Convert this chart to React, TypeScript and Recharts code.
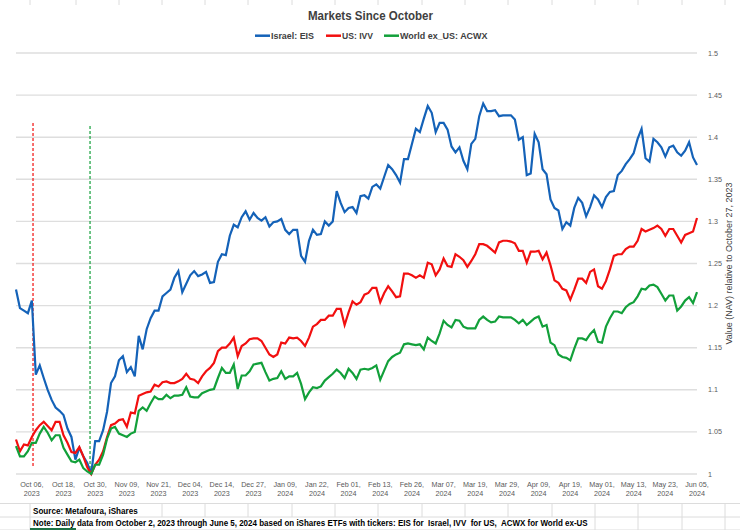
import React from 'react';
import { LineChart, Line, XAxis, YAxis, CartesianGrid, ReferenceLine } from 'recharts';

// ---- Data ----
// Trading-day index 0 = Oct 2, 2023 ... 172 = Jun 5, 2024
const xTickIndex = [4, 12, 20, 28, 36, 44, 52, 60, 68, 76, 84, 92, 100, 108, 116, 124, 132, 140, 148, 156, 164, 172];
const xTickLabels = [
  ['Oct 06,', '2023'], ['Oct 18,', '2023'], ['Oct 30,', '2023'], ['Nov 09,', '2023'], ['Nov 21,', '2023'],
  ['Dec 04,', '2023'], ['Dec 14,', '2023'], ['Dec 27,', '2023'], ['Jan 09,', '2024'], ['Jan 22,', '2024'],
  ['Feb 01,', '2024'], ['Feb 13,', '2024'], ['Feb 26,', '2024'], ['Mar 07,', '2024'], ['Mar 19,', '2024'],
  ['Mar 29,', '2024'], ['Apr 09,', '2024'], ['Apr 19,', '2024'], ['May 01,', '2024'], ['May 13,', '2024'],
  ['May 23,', '2024'], ['Jun 05,', '2024'],
];
const yTicks = [1, 1.05, 1.1, 1.15, 1.2, 1.25, 1.3, 1.35, 1.4, 1.45, 1.5];
const yTickLabels = ['1', '1.05', '1.1', '1.15', '1.2', '1.25', '1.3', '1.35', '1.4', '1.45', '1.5'];

const israelEIS = [
  1.219, 1.197, 1.194, 1.191, 1.206, 1.118, 1.129, 1.114, 1.100, 1.088,
  1.079, 1.075, 1.070, 1.054, 1.044, 1.017, 1.031, 1.021, 1.013, 1.000,
  1.039, 1.039, 1.052, 1.074, 1.108, 1.116, 1.135, 1.140, 1.121, 1.127,
  1.116, 1.164, 1.148, 1.172, 1.185, 1.194, 1.194, 1.211, 1.215, 1.219,
  1.233, 1.241, 1.216, 1.226, 1.236, 1.241, 1.235, 1.237, 1.240, 1.227,
  1.228, 1.252, 1.261, 1.260, 1.283, 1.296, 1.293, 1.305, 1.312, 1.302,
  1.310, 1.304, 1.301, 1.305, 1.294, 1.299, 1.300, 1.303, 1.290, 1.285,
  1.290, 1.290, 1.259, 1.252, 1.277, 1.290, 1.284, 1.285, 1.300, 1.295,
  1.300, 1.336, 1.322, 1.311, 1.316, 1.317, 1.310, 1.330, 1.331, 1.327,
  1.341, 1.344, 1.339, 1.353, 1.367, 1.362, 1.355, 1.346, 1.374, 1.374,
  1.392, 1.410, 1.406, 1.422, 1.437, 1.429, 1.406, 1.417, 1.417, 1.409,
  1.389, 1.382, 1.388, 1.372, 1.362, 1.392, 1.398, 1.425, 1.440, 1.431,
  1.431, 1.432, 1.425, 1.426, 1.426, 1.426, 1.421, 1.397, 1.400, 1.355,
  1.357, 1.404, 1.394, 1.362, 1.356, 1.326, 1.316, 1.313, 1.291, 1.299,
  1.295, 1.316, 1.328, 1.322, 1.306, 1.317, 1.331, 1.326, 1.317, 1.329,
  1.335, 1.336, 1.355, 1.360, 1.368, 1.374, 1.381, 1.398, 1.410, 1.375,
  1.371, 1.398, 1.394, 1.388, 1.377, 1.388, 1.390, 1.382, 1.378, 1.384,
  1.394, 1.376, 1.367,
];

const usIVV = [
  1.041, 1.027, 1.035, 1.034, 1.044, 1.052, 1.058, 1.062, 1.057, 1.052,
  1.062, 1.062, 1.046, 1.037, 1.026, 1.025, 1.032, 1.021, 1.008, 1.000,
  1.011, 1.017, 1.027, 1.044, 1.058, 1.060, 1.064, 1.065, 1.056, 1.073,
  1.072, 1.093, 1.095, 1.097, 1.098, 1.106, 1.104, 1.109, 1.110, 1.108,
  1.108, 1.110, 1.113, 1.119, 1.113, 1.112, 1.108, 1.116, 1.122, 1.126,
  1.132, 1.146, 1.150, 1.150, 1.155, 1.162, 1.140, 1.152, 1.155, 1.160,
  1.161, 1.161, 1.158, 1.150, 1.142, 1.139, 1.142, 1.156, 1.155, 1.162,
  1.161, 1.162, 1.158, 1.152, 1.162, 1.175, 1.178, 1.183, 1.183, 1.188,
  1.188, 1.196, 1.196, 1.177, 1.192, 1.205, 1.201, 1.204, 1.213, 1.215,
  1.221, 1.221, 1.204, 1.215, 1.223, 1.217, 1.210, 1.211, 1.238, 1.238,
  1.236, 1.233, 1.236, 1.233, 1.251, 1.249, 1.236, 1.243, 1.256, 1.247,
  1.246, 1.261, 1.258, 1.254, 1.246, 1.253, 1.261, 1.273, 1.273, 1.271,
  1.267, 1.263, 1.275, 1.277, 1.277, 1.276, 1.274, 1.265, 1.265, 1.251,
  1.264, 1.264, 1.265, 1.255, 1.263, 1.248, 1.230, 1.227, 1.220, 1.218,
  1.207, 1.219, 1.232, 1.232, 1.227, 1.240, 1.243, 1.223, 1.220, 1.229,
  1.243, 1.259, 1.261, 1.261, 1.267, 1.270, 1.270, 1.277, 1.291, 1.288,
  1.290, 1.292, 1.295, 1.291, 1.283, 1.291, 1.291, 1.283, 1.275, 1.284,
  1.286, 1.288, 1.304,
];

const worldACWX = [
  1.033, 1.021, 1.021, 1.027, 1.037, 1.037, 1.048, 1.056, 1.049, 1.040,
  1.046, 1.046, 1.031, 1.023, 1.015, 1.014, 1.017, 1.007, 1.003, 1.000,
  1.011, 1.011, 1.023, 1.042, 1.054, 1.056, 1.048, 1.046, 1.044, 1.048,
  1.050, 1.075, 1.079, 1.075, 1.084, 1.092, 1.089, 1.089, 1.094, 1.090,
  1.093, 1.093, 1.094, 1.103, 1.092, 1.091, 1.091, 1.096, 1.098, 1.100,
  1.101, 1.114, 1.126, 1.120, 1.120, 1.130, 1.101, 1.117, 1.117, 1.122,
  1.130, 1.131, 1.132, 1.121, 1.111, 1.113, 1.114, 1.122, 1.113, 1.116,
  1.116, 1.120, 1.107, 1.089, 1.097, 1.103, 1.102, 1.104, 1.111, 1.115,
  1.119, 1.124, 1.120, 1.114, 1.125, 1.120, 1.113, 1.124, 1.125, 1.124,
  1.126, 1.129, 1.112, 1.123, 1.134, 1.139, 1.142, 1.144, 1.154, 1.155,
  1.154, 1.153, 1.154, 1.148, 1.162, 1.158, 1.155, 1.167, 1.182, 1.177,
  1.174, 1.183, 1.182, 1.175, 1.173, 1.173, 1.173, 1.183, 1.187, 1.183,
  1.180, 1.181, 1.187, 1.186, 1.186, 1.186, 1.183, 1.179, 1.183, 1.177,
  1.181, 1.185, 1.187, 1.175, 1.177, 1.156, 1.153, 1.142, 1.139, 1.138,
  1.135, 1.149, 1.161, 1.161, 1.159, 1.166, 1.171, 1.157, 1.156, 1.175,
  1.185, 1.193, 1.193, 1.191, 1.198, 1.202, 1.204, 1.211, 1.220, 1.219,
  1.224, 1.225, 1.222, 1.214, 1.206, 1.212, 1.212, 1.194, 1.199, 1.206,
  1.210, 1.203, 1.216,
];

const seriesMeta = [
  { key: 'eis', name: 'Israel: EIS', color: '#1462B8' },
  { key: 'ivv', name: 'US: IVV', color: '#F20F0F' },
  { key: 'acwx', name: 'World ex_US: ACWX', color: '#12A03A' },
];

// Event markers (trading-day index, value range)
const eventMarkers = [
  { x: 4.3, y0: 1.0095, y1: 1.417, color: '#F20F0F' },
  { x: 18.7, y0: 1.0, y1: 1.415, color: '#12A03A' },
];

const titleText = 'Markets Since October';
const yAxisTitle = 'Value (NAV) relative to October 27, 2023';
const sourceText = 'Source: Metafoura, iShares';
const noteText = 'Note: Daily data from October 2, 2023 through June 5, 2024 based on iShares ETFs with tickers: EIS for  Israel, IVV  for US,  ACWX for World ex-US';

// ---- Layout / styling (not data) ----
const legendLineX = [255, 326, 384];
const legendTextW = [43, 31, 87.5];
const sheetCols = [30, 76, 119, 162, 205, 248, 292, 335, 378, 422, 465, 508, 552, 595, 638, 682, 725];
const CELL = '#DCDCDC';

const data = israelEIS.map((v, i) => ({ i, eis: v, ivv: usIVV[i], acwx: worldACWX[i] }));

const SANS = "'Liberation Sans', Arial, sans-serif";

const XTick = (props: any) => {
  const { x, y, payload } = props;
  const idx = xTickIndex.indexOf(payload.value);
  const lbl = idx >= 0 ? xTickLabels[idx] : ['', ''];
  return (
    <text x={x} y={y} textAnchor="middle" fill="#595959" fontSize={7.2} fontFamily={SANS}>
      <tspan x={x} dy={4.5}>{lbl[0]}</tspan>
      <tspan x={x} dy={9.5}>{lbl[1]}</tspan>
    </text>
  );
};

const YTitle = (props: any) => {
  const vb = props.viewBox || {};
  const cx = vb.x + vb.width / 2 + 10;
  const cy = vb.y + vb.height / 2;
  return (
    <text x={cx} y={cy} textAnchor="middle" dominantBaseline="central" transform={`rotate(-90 ${cx} ${cy})`}
      fill="#404040" fontSize={8.5} fontFamily={SANS} textLength={162} lengthAdjust="spacingAndGlyphs">
      {yAxisTitle}
    </text>
  );
};

export default function App() {
  return (
    <div style={{ position: 'absolute', left: 0, top: 0, width: 740, height: 530, background: '#fff', overflow: 'hidden' }}>
      {/* spreadsheet cell borders around the chart */}
      <svg width={740} height={530} style={{ position: 'absolute', left: 0, top: 0 }}>
        {sheetCols.map((c) => (
          <line key={'t' + c} x1={c} x2={c} y1={0} y2={5} stroke={CELL} strokeWidth={1} />
        ))}
        <line x1={0} x2={740} y1={503.5} y2={503.5} stroke={CELL} strokeWidth={1} />
        <line x1={0} x2={740} y1={517} y2={517} stroke={CELL} strokeWidth={1} />
        <line x1={0} x2={740} y1={530} y2={530} stroke={CELL} strokeWidth={1} />
        {sheetCols.filter((c) => c === 30 || c >= 162).map((c) => (
          <line key={'s' + c} x1={c} x2={c} y1={503.5} y2={517} stroke={CELL} strokeWidth={1} />
        ))}
        {sheetCols.filter((c) => c === 30 || c >= 595).map((c) => (
          <line key={'n' + c} x1={c} x2={c} y1={517} y2={530} stroke={CELL} strokeWidth={1} />
        ))}
        <line x1={30} x2={76} y1={529} y2={529} stroke="#1E7145" strokeWidth={2} />
      </svg>
      <div style={{ position: 'absolute', left: 0, top: 0 }}>
        <LineChart width={740} height={530} data={data} margin={{ top: 53, right: 0, bottom: 26, left: 16 }}>
          <CartesianGrid vertical={false} stroke="#DEDEDE" strokeWidth={1.4} />
          <XAxis type="number" dataKey="i" domain={[0, 172]} ticks={xTickIndex} interval={0}
            axisLine={false} tickLine={false} tick={<XTick />} height={30} />
          <YAxis orientation="right" domain={[1, 1.5]} ticks={yTicks} width={43} axisLine={false} tickLine={false}
            tickMargin={5} interval={0}
            tick={{ fontSize: 7.2, fill: '#595959', fontFamily: SANS }}
            tickFormatter={(v: number) => yTickLabels[yTicks.indexOf(v)]}
            label={<YTitle />} />
          {eventMarkers.map((m, k) => (
            <ReferenceLine key={k} segment={[{ x: m.x, y: m.y0 }, { x: m.x, y: m.y1 }]} stroke={m.color}
              strokeWidth={1.2} strokeDasharray="3 2" />
          ))}
          {seriesMeta.map((s) => (
            <Line key={s.key} type="linear" dataKey={s.key} name={s.name} stroke={s.color} strokeWidth={2.2}
              dot={false} isAnimationActive={false} />
          ))}
        </LineChart>
      </div>
      {/* title, legend, footnotes */}
      <svg width={740} height={530} style={{ position: 'absolute', left: 0, top: 0, pointerEvents: 'none' }}>
        <text x={370.5} y={20} textAnchor="middle" fontFamily={SANS} fontWeight={700} fontSize={12.5} fill="#404040"
          textLength={125} lengthAdjust="spacingAndGlyphs">{titleText}</text>
        {seriesMeta.map((s, k) => (
          <g key={s.key}>
            <line x1={legendLineX[k]} x2={legendLineX[k] + 15} y1={35.7} y2={35.7} stroke={s.color} strokeWidth={2.5} />
            <text x={legendLineX[k] + 16} y={39} fontFamily={SANS} fontWeight={700} fontSize={9.5} fill="#404040"
              textLength={legendTextW[k]} lengthAdjust="spacingAndGlyphs">{s.name}</text>
          </g>
        ))}
        <text x={33} y={514} fontFamily={SANS} fontWeight={700} fontSize={8.8} fill="#000"
          textLength={104.7} lengthAdjust="spacingAndGlyphs">{sourceText}</text>
        <text x={33} y={526} fontFamily={SANS} fontWeight={700} fontSize={8.8} fill="#000" style={{ whiteSpace: 'pre' }}
          textLength={554.7} lengthAdjust="spacingAndGlyphs">{noteText}</text>
      </svg>
    </div>
  );
}
